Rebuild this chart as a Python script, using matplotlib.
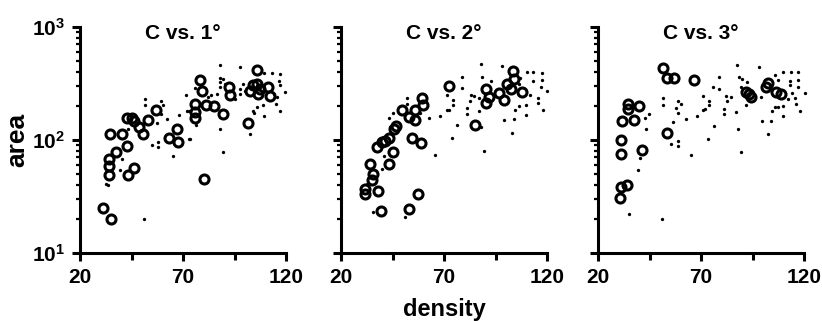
import numpy as np
import matplotlib
matplotlib.use('Agg')
import matplotlib.pyplot as plt
from matplotlib.ticker import FixedLocator, NullFormatter

plt.rcParams['font.family'] = ['Liberation Sans', 'DejaVu Sans']
plt.rcParams['font.weight'] = 'bold'
plt.rcParams['mathtext.fontset'] = 'custom'
plt.rcParams['mathtext.rm'] = 'Liberation Sans:bold'
plt.rcParams['mathtext.it'] = 'Liberation Sans:bold'
plt.rcParams['mathtext.bf'] = 'Liberation Sans:bold'

# (density, area)
# open circles = C, dots = 1st / 2nd / 3rd degree
c1 = [(31.0, 25), (34.9, 20), (34.6, 114), (34.2, 68), (34.2, 59), (34.2, 49), (37.3, 78),
      (40.4, 114), (42.6, 88), (43.1, 49), (46.2, 57), (42.6, 157), (45.1, 157), (46.2, 147),
      (48.8, 130), (50.7, 114), (52.8, 151), (56.9, 184), (63.2, 105), (66.9, 126), (67.4, 96),
      (78.2, 337), (79.3, 270), (75.8, 209), (75.8, 177), (75.8, 157), (81.2, 205), (84.9, 200),
      (89.5, 171), (80.3, 45), (92.5, 294), (92.8, 251), (101.7, 142), (106, 414), (106, 315),
      (107.3, 284), (102.4, 269), (111.3, 294), (112.2, 244), (106.5, 257), (104, 305)]
d1 = [(51.7, 229), (51.7, 203), (59.1, 220), (60.4, 205), (57.2, 142), (62.3, 152), (59.1, 171),
      (67.9, 165), (71.5, 248), (71.8, 182), (43.4, 124), (55, 91), (57.9, 96), (57.9, 87),
      (65.3, 72), (40.2, 68), (39.4, 54), (32.6, 41), (33.7, 40), (51, 20), (73.3, 103),
      (87.9, 457), (97.9, 443), (75.8, 289), (88.2, 354), (89.5, 348), (88.2, 326), (90.3, 315),
      (87.9, 294), (86.6, 257), (83.8, 248), (82.2, 240), (72.9, 182), (76.3, 135), (88.2, 126),
      (73, 101), (89.5, 78), (95.2, 232), (97.6, 284), (99.2, 315), (100, 269), (97.9, 257),
      (103.8, 182), (104.4, 173), (106, 195), (108.9, 203), (109.3, 162), (115.2, 209),
      (117.1, 182), (102.4, 114), (109.3, 394), (113.4, 394), (117.1, 387), (116.8, 331),
      (117.1, 305), (119.5, 266), (115.4, 240), (114.1, 257)]

c2 = [(31.7, 33), (31.7, 37), (35, 44), (35.5, 50), (34.1, 61), (39.4, 23.5), (38.2, 35),
      (43.1, 61), (45.2, 79), (37.4, 86), (39.8, 95), (41.5, 98), (43.1, 105), (45.6, 124),
      (46.8, 133), (49.6, 186), (52.9, 160), (56.1, 149), (56.1, 186), (59.4, 233), (59.9, 204),
      (54.3, 105), (58.7, 94), (52.9, 24.5), (57.2, 33), (72.3, 301), (84.9, 136), (90.2, 281),
      (91.9, 240), (90.2, 214), (96.7, 262), (99.2, 224), (100.8, 310), (103.3, 407),
      (103.8, 344), (102.4, 281), (108.1, 267)]
d2 = [(52, 233), (52, 207), (45.2, 172), (43.1, 158), (43.6, 129), (41, 72), (39.9, 55),
      (35.5, 23), (51.2, 21), (62.6, 155), (68, 163), (71.6, 186), (71.6, 252), (65.5, 74),
      (32.6, 41), (58.2, 172), (87.8, 472), (98, 451), (78.9, 363), (88.6, 361), (92.7, 331),
      (78.9, 286), (83, 252), (84.6, 245), (82.6, 221), (87, 237), (74.4, 224), (74.4, 204),
      (72.3, 186), (81.3, 191), (81.3, 169), (87, 181), (76.4, 136), (73.7, 104), (89.4, 80),
      (88.1, 129), (99.2, 149), (102.8, 116), (103.8, 153), (104.4, 183), (106.5, 200),
      (109.8, 204), (109.8, 167), (110.3, 398), (113.1, 398), (117.6, 393), (113.1, 331),
      (117.5, 336), (117.1, 294), (120, 270), (115.5, 237), (115.5, 214), (117.9, 186),
      (111.8, 252), (106.8, 351), (106.3, 310)]

c3 = [(30.6, 30.7), (31.4, 38), (34.3, 40), (31.4, 75), (31.4, 99), (41.5, 82), (31.7, 146),
      (37.6, 150), (34.6, 208), (34.6, 188), (39.9, 199), (53.3, 115), (51.7, 434), (53.3, 354),
      (57.1, 354), (66.8, 339), (93.3, 255), (91.7, 265), (94.1, 239), (101.4, 292),
      (102.3, 317), (106.3, 265), (108.8, 255)]
d3 = [(35, 22), (50.9, 20), (39.5, 54), (40.3, 69), (43.3, 125), (42.8, 157), (44.9, 170),
      (51.4, 234), (51.4, 204), (59, 223), (60.3, 208), (57.7, 191), (59, 173), (56.6, 145),
      (62.6, 153), (55.5, 92), (58.7, 97), (58.7, 89), (65.2, 73), (68, 164), (71.2, 184),
      (71.2, 245), (87.7, 463), (98.2, 446), (78.7, 360), (75.8, 292), (78.7, 282), (74.1, 220),
      (74.1, 205), (72.1, 188), (82.3, 245), (84.4, 240), (82.8, 220), (81.1, 188), (81.1, 168),
      (86.8, 176), (76.2, 134), (73.3, 102), (88.1, 125), (89.6, 78), (88.4, 359), (90.1, 347),
      (89.3, 292), (92.5, 324), (91.7, 205), (99, 240), (99.5, 146), (103.9, 148), (102.7, 113),
      (104.4, 182), (106, 195), (107.2, 197), (109.6, 201), (109.6, 164), (106, 372),
      (107.2, 339), (110, 398), (113.5, 398), (117.1, 398), (113, 331), (113, 309), (117.1, 339),
      (117.1, 292), (120.3, 263), (114, 259), (115.6, 236), (116.1, 208), (118, 182), (112, 230)]

titles = ['C vs. 1°', 'C vs. 2°', 'C vs. 3°']
x_major = [20, 70, 120]
x_minor = [45, 95]

fig = plt.figure(figsize=(8.22, 3.21), dpi=100)
lefts = [80 / 822, 341 / 822, 598 / 822]
panels = [(c1, d1), (c2, d2), (c3, d3)]

for i, (circ, dots) in enumerate(panels):
    ax = fig.add_axes([lefts[i], 0.212, 206 / 822, 0.704])
    circ = np.array(circ)
    dots = np.array(dots)
    ax.plot(dots[:, 0], dots[:, 1], 'o', color='black', ms=2.4, mew=0, clip_on=False)
    ax.plot(circ[:, 0], circ[:, 1], 'o', mfc='none', mec='black', ms=6.5, mew=2.2,
            clip_on=False)
    ax.set_yscale('log')
    ax.set_xlim(20, 120)
    ax.set_ylim(10, 1000)
    for s in ['top', 'right']:
        ax.spines[s].set_visible(False)
    for s in ['left', 'bottom']:
        ax.spines[s].set_linewidth(2.2)
    ax.xaxis.set_major_locator(FixedLocator(x_major))
    ax.xaxis.set_minor_locator(FixedLocator(x_minor))
    ax.tick_params(axis='both', which='major', direction='out', length=6, width=2.2,
                   labelsize=15, pad=5)
    ax.tick_params(axis='x', which='minor', direction='out', length=5, width=2.2)
    ax.tick_params(axis='y', which='minor', direction='out', length=3, width=1.6)
    if i > 0:
        ax.yaxis.set_major_formatter(NullFormatter())
    ax.yaxis.set_minor_formatter(NullFormatter())
    ax.text(0.5, 0.97, titles[i], transform=ax.transAxes, ha='center', va='center',
            fontsize=15, fontweight='bold')
    if i == 0:
        ax.set_ylabel('area', fontsize=19, fontweight='bold', labelpad=2)
    if i == 1:
        ax.set_xlabel('density', fontsize=17, fontweight='bold', labelpad=8)

fig.savefig('out.png', dpi=100)
